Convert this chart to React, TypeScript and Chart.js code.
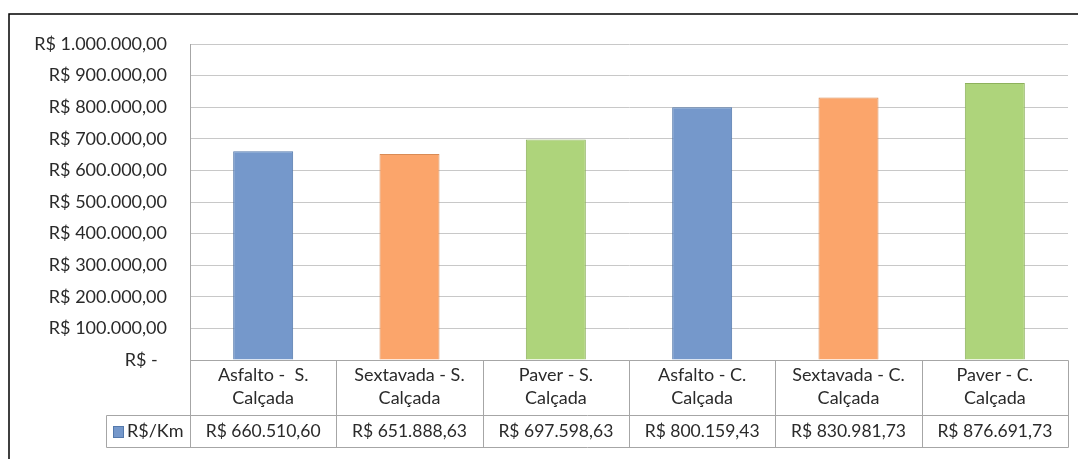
import React, { useEffect, useRef } from "react";
import { Chart, registerables } from "chart.js";

Chart.register(...registerables);

const categoriesLine1 = ["Asfalto -  S.", "Sextavada - S.", "Paver - S.", "Asfalto - C.", "Sextavada - C.", "Paver - C."];
const categoriesLine2 = ["Calçada", "Calçada", "Calçada", "Calçada", "Calçada", "Calçada"];
const seriesName = "R$/Km";
const values = [660510.6, 651888.63, 697598.63, 800159.43, 830981.73, 876691.73];
const barColors = ["#7598CB", "#FBA56B", "#AED47B", "#7598CB", "#FBA56B", "#AED47B"];
const barBorders = ["#5479AC", "#D98B55", "#8DB15C", "#5479AC", "#D98B55", "#8DB15C"];
const yMax = 1000000;
const yStep = 100000;

const FONT = "Lato, 'Open Sans', sans-serif";
const TEXT = "#2a2a2a";

function fmtBRL(v: number): string {
  const fixed = v.toFixed(2);
  const [intPart, dec] = fixed.split(".");
  const withDots = intPart.replace(/\B(?=(\d{3})+(?!\d))/g, ".");
  return "R$ " + withDots + "," + dec;
}

const tablePlugin = {
  id: "dataTable",
  beforeDraw(chart: any) {
    const ctx = chart.ctx;
    ctx.save();
    ctx.fillStyle = "#ffffff";
    ctx.fillRect(0, 0, chart.width, chart.height);
    ctx.strokeStyle = "#000000";
    ctx.lineWidth = 1.5;
    ctx.beginPath();
    ctx.moveTo(9, chart.height);
    ctx.lineTo(9, 14);
    ctx.lineTo(chart.width, 14);
    ctx.stroke();
    ctx.restore();
  },
  afterDraw(chart: any) {
    const ctx = chart.ctx;
    const { left, right, bottom } = chart.chartArea;
    const xs = chart.scales.x;
    const n = categoriesLine1.length;
    const centers = categoriesLine1.map((_, i) => xs.getPixelForValue(i));
    const bounds: number[] = [left];
    for (let i = 0; i < n - 1; i++) bounds.push((centers[i] + centers[i + 1]) / 2);
    bounds.push(right);
    const row1 = bottom + 55;
    const row2 = row1 + 32;
    const legendLeft = 106;

    ctx.save();
    ctx.strokeStyle = "#A6A6A6";
    ctx.lineWidth = 1;
    const line = (x1: number, y1: number, x2: number, y2: number) => {
      ctx.beginPath();
      ctx.moveTo(Math.round(x1) + 0.5, Math.round(y1) + 0.5);
      ctx.lineTo(Math.round(x2) + 0.5, Math.round(y2) + 0.5);
      ctx.stroke();
    };
    line(left, bottom, right, bottom);
    line(legendLeft, row1, right, row1);
    line(legendLeft, row2, right, row2);
    line(legendLeft, row1, legendLeft, row2);
    bounds.forEach((b) => line(b, bottom, b, row2));

    ctx.fillStyle = TEXT;
    ctx.font = `18px ${FONT}`;
    ctx.textAlign = "center";
    ctx.textBaseline = "middle";
    for (let i = 0; i < n; i++) {
      ctx.fillText(categoriesLine1[i], centers[i], bottom + 15);
      ctx.fillText(categoriesLine2[i], centers[i], bottom + 38);
    }
    ctx.font = `17.5px ${FONT}`;
    for (let i = 0; i < n; i++) {
      ctx.fillText(fmtBRL(values[i]), centers[i], (row1 + row2) / 2);
    }
    // legend key
    ctx.fillStyle = barColors[0];
    ctx.fillRect(113, row1 + 11, 10, 11);
    ctx.strokeStyle = barBorders[0];
    ctx.strokeRect(113.5, row1 + 11.5, 10, 11);
    ctx.fillStyle = TEXT;
    ctx.textAlign = "left";
    ctx.font = `18px ${FONT}`;
    ctx.fillText(seriesName, 127, (row1 + row2) / 2);
    ctx.restore();
  },
};

export default function App() {
  const ref = useRef<HTMLCanvasElement | null>(null);
  useEffect(() => {
    if (!ref.current) return;
    const chart = new Chart(ref.current, {
      type: "bar",
      data: {
        labels: categoriesLine1.map((c, i) => c + " " + categoriesLine2[i]),
        datasets: [
          {
            label: seriesName,
            data: values,
            backgroundColor: barColors,
            borderColor: barBorders,
            borderWidth: 1,
            barPercentage: 0.41,
            categoryPercentage: 1,
          },
        ],
      },
      options: {
        animation: false,
        responsive: true,
        maintainAspectRatio: false,
        layout: { padding: { top: 44, bottom: 99, right: 10, left: 0 } },
        plugins: { legend: { display: false }, tooltip: { enabled: false } },
        scales: {
          x: { display: false, grid: { display: false } },
          y: {
            min: 0,
            max: yMax,
            afterFit: (scale: any) => {
              scale.width = 190;
            },
            grid: { color: "#C8C8C8", drawTicks: false, lineWidth: 1 },
            border: { display: true, color: "#A6A6A6" },
            ticks: {
              stepSize: yStep,
              padding: 23,
              color: TEXT,
              font: { family: FONT, size: 18 },
              callback: (v: any) => (Number(v) === 0 ? "R$ -  " : fmtBRL(Number(v))),
            },
          },
        },
      },
      plugins: [tablePlugin],
    });
    return () => chart.destroy();
  }, []);
  return (
    <div style={{ position: "fixed", left: 0, top: 0, width: 1078, height: 459, background: "#fff" }}>
      <canvas ref={ref} />
    </div>
  );
}
